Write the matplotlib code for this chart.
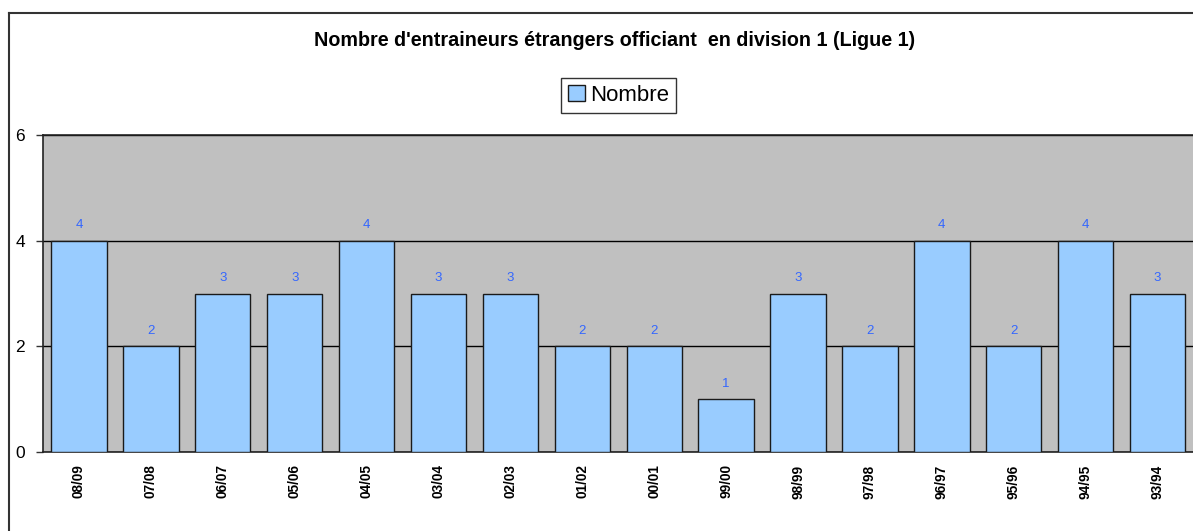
import matplotlib
matplotlib.use("Agg")
import matplotlib.pyplot as plt
from matplotlib.lines import Line2D

plt.rcParams['font.family'] = ['Liberation Sans', 'DejaVu Sans']

seasons = ["08/09", "07/08", "06/07", "05/06", "04/05", "03/04", "02/03", "01/02",
           "00/01", "99/00", "98/99", "97/98", "96/97", "95/96", "94/95", "93/94"]
nombre = [4, 2, 3, 3, 4, 3, 3, 2, 2, 1, 3, 2, 4, 2, 4, 3]
yticks = [0, 2, 4, 6]

fig = plt.figure(figsize=(11.93, 5.31), dpi=100)
ax = fig.add_axes([43/1193, 1-452/531, 1150.5/1193, (452-135)/531])
ax.set_facecolor('#C0C0C0')

x = list(range(len(seasons)))
bars = ax.bar(x, nombre, width=0.77, color='#99CCFF', edgecolor='#1a1a1a', linewidth=1.0, zorder=3,
              label='Nombre')
for xi, v in zip(x, nombre):
    ax.text(xi, v + 0.18, str(v), ha='center', va='bottom', color='#3366FF', fontsize=9.5, zorder=4)

ax.set_xlim(-0.5, len(seasons) - 0.5)
ax.set_ylim(0, 6)
ax.set_yticks(yticks)
ax.set_yticklabels([str(t) for t in yticks], fontsize=12.5)
ax.set_xticks(x)
ax.set_xticklabels(seasons, rotation=90, fontsize=9.8, fontweight='bold')
ax.tick_params(axis='x', length=0, pad=9)
ax.tick_params(axis='y', length=5, width=1, pad=8, color='#333333')
ax.yaxis.grid(True, color='black', linewidth=1, zorder=1)
ax.set_axisbelow(True)
for side in ['left', 'top', 'bottom']:
    ax.spines[side].set_color('#222222')
    ax.spines[side].set_linewidth(1.2)
ax.spines['right'].set_visible(False)

fig.text(0.5 + 18/1193, 1-40/531, "Nombre d'entraineurs étrangers officiant  en division 1 (Ligue 1)",
         ha='center', va='center', fontsize=14.2, fontweight='bold')

leg = fig.legend(handles=[bars], labels=['Nombre'], loc='center', bbox_to_anchor=(618.5/1193, 1-95.5/531),
                 fontsize=16, frameon=True, fancybox=False, edgecolor='black', handlelength=0.75,
                 handleheight=0.75, handletextpad=0.25, borderpad=0.3, borderaxespad=0)
leg.get_frame().set_linewidth(1.0)

fx = 8.5/1193
fy = 1 - 12.5/531
fig.lines.append(Line2D([fx, fx], [0, fy], transform=fig.transFigure, color='#333333', linewidth=1.5))
fig.lines.append(Line2D([fx, 1.0], [fy, fy], transform=fig.transFigure, color='#333333', linewidth=1.5))

fig.savefig('out.png', dpi=100)
